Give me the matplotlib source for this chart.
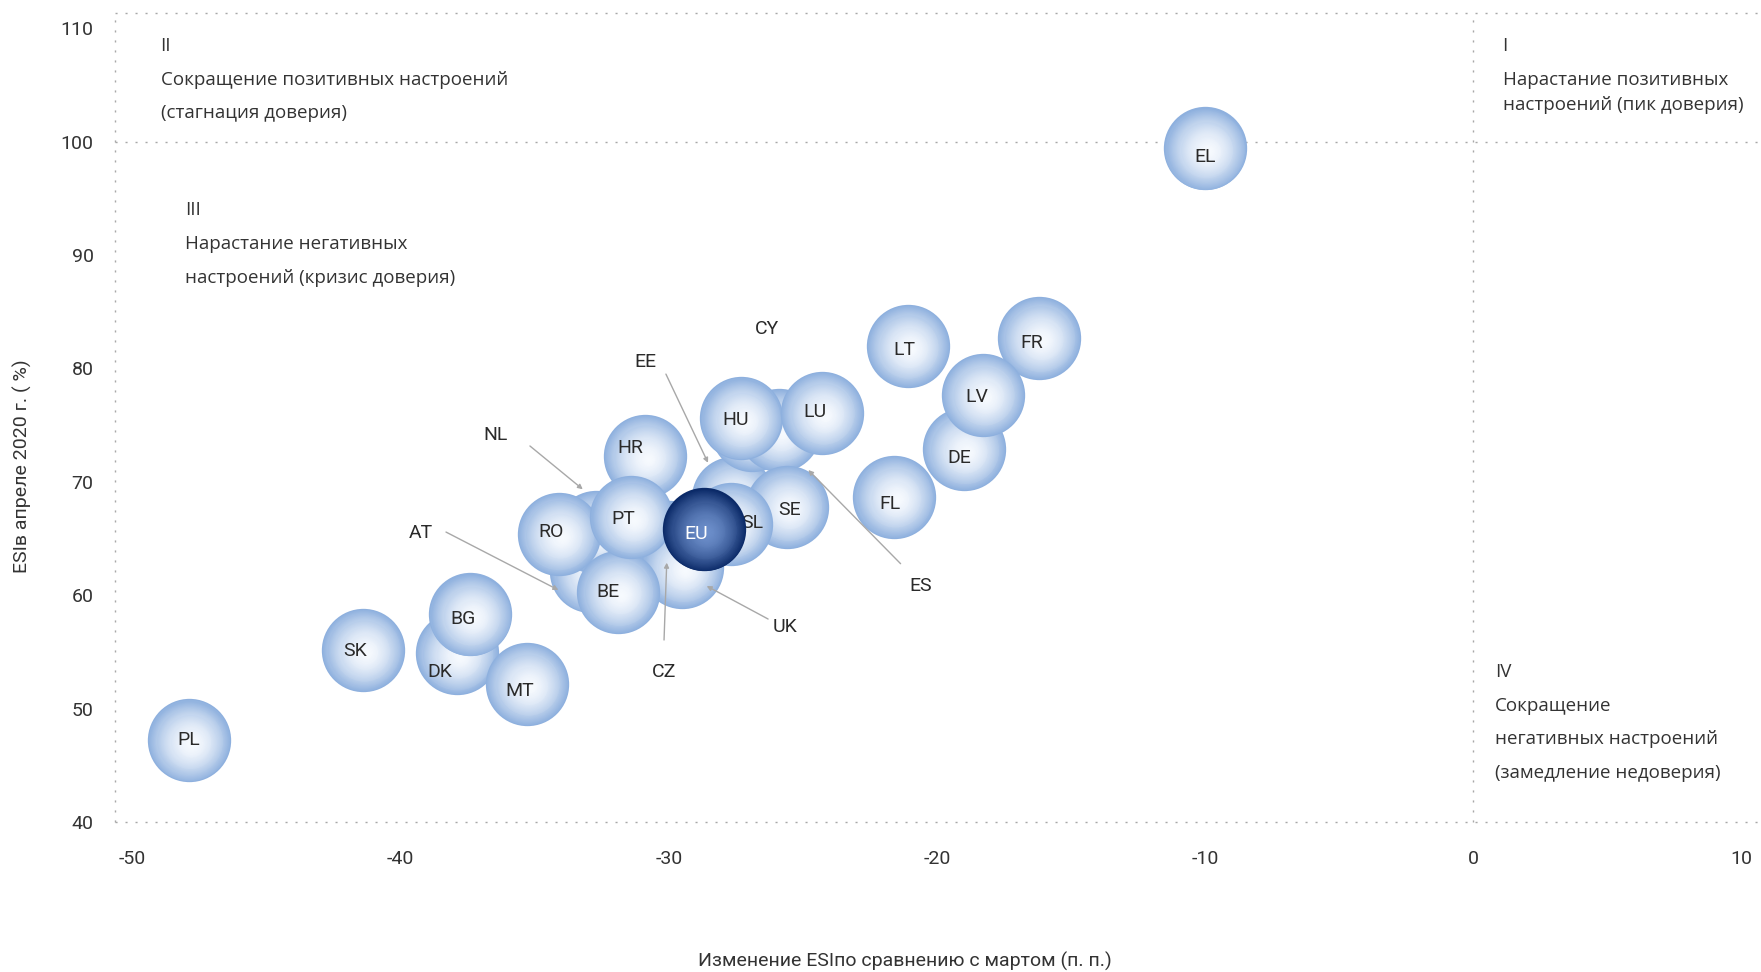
import matplotlib
matplotlib.use("Agg")
import matplotlib.pyplot as plt
import numpy as np
from matplotlib.transforms import ScaledTranslation

plt.rcParams['font.family'] = ['Roboto', 'DejaVu Sans']
plt.rcParams['axes.unicode_minus'] = False

# ---------------- data ----------------
countries = ['AT', 'NL', 'CZ', 'UK', 'EE', 'CY', 'ES', 'BE', 'RO', 'HR', 'PT',
             'HU', 'LU', 'SE', 'SL', 'EU', 'DK', 'BG', 'MT', 'SK', 'PL',
             'FL', 'DE', 'FR', 'LV', 'LT', 'EL']
esi_change = [-32.9, -32.7, -30.0, -29.5, -27.6, -26.9, -25.9, -31.9, -34.1, -30.9, -31.4,
              -27.3, -24.3, -25.6, -27.7, -28.7, -37.9, -37.4, -35.3, -41.4, -47.9,
              -21.6, -19.0, -16.2, -18.3, -21.1, -10.0]
esi_april = [62.1, 65.6, 64.7, 62.5, 68.6, 74.6, 74.6, 60.3, 65.4, 72.3, 66.9,
             75.6, 76.1, 67.8, 66.3, 65.8, 54.9, 58.3, 52.2, 55.2, 47.2,
             68.7, 72.9, 82.7, 77.7, 82.0, 99.4]

x_ticks = [-50, -40, -30, -20, -10, 0, 10]
y_ticks = [40, 50, 60, 70, 80, 90, 100, 110]

# labels of hidden bubbles: (label position, arrow start, arrow tip) in data units
callouts = {
    'EE': ((-30.87, 80.6), (-30.11, 79.5), (-28.54, 71.68)),
    'NL': ((-36.48, 74.16), (-35.18, 73.16), (-33.21, 69.34)),
    'AT': ((-39.24, 65.45), (-38.31, 65.57), (-34.12, 60.46)),
    'CZ': ((-30.19, 53.26), (-30.18, 56.05), (-30.08, 62.87)),
    'UK': ((-25.67, 57.23), (-26.3, 57.9), (-28.59, 60.81)),
    'ES': ((-20.6, 60.8), (-21.36, 62.78), (-24.8, 71.04)),
    'CY': ((-26.35, 83.47), None, None),
}
# in-bubble label offsets (pixels, right/down)
label_off = {
    'PL': (0, 0), 'SK': (-8, 1), 'DK': (-17, 19), 'BG': (-7, 5), 'MT': (-7, 7),
    'RO': (-8, -2), 'HR': (-14, -8), 'PT': (-8, 2), 'BE': (-10, 0), 'EU': (-8, 5),
    'SL': (22, -1), 'SE': (3, 3), 'HU': (-6, 2), 'LU': (-7, -1), 'LT': (-3, 4),
    'FR': (-7, 5), 'LV': (-6, 2), 'DE': (-5, 9), 'FL': (-4, 7), 'EL': (0, 9),
}

W, H = 1761, 972
fig = plt.figure(figsize=(W / 100, H / 100), dpi=100)
XL, XR = -50.67, 10.5
YB, YT = 40.0, 111.3
left = 114.5 / W
bottom = (H - 822) / H
ax = fig.add_axes([left, bottom, (XR - XL) * 26.82 / W, (822 - 13.5) / H])
ax.set_xlim(XL, XR)
ax.set_ylim(YB, YT)
for s in ax.spines.values():
    s.set_visible(False)

txt_col = '#333333'
dot_col = '#a8a8a8'
dots = (0, (1.5, 5.7))
# dotted frame lines
ax.plot([XL, XR + 0.3], [YT, YT], color=dot_col, lw=1, ls=dots, clip_on=False, zorder=1)
ax.plot([XL, XR + 0.3], [100, 100], color=dot_col, lw=1, ls=dots, clip_on=False, zorder=1)
ax.plot([XL, XR + 0.3], [40, 40], color=dot_col, lw=1, ls=dots, clip_on=False, zorder=1)
ax.plot([XL, XL], [YB, YT], color=dot_col, lw=1, ls=dots, clip_on=False, zorder=1)
ax.plot([0, 0], [YB, YT], color=dot_col, lw=1, ls=dots, clip_on=False, zorder=1)

ax.set_xticks(x_ticks)
ax.set_xticklabels([str(v) for v in x_ticks])
ax.set_yticks(y_ticks)
ax.set_yticklabels([str(v) for v in y_ticks])
ax.tick_params(axis='x', length=0, pad=20, labelsize=14, labelcolor=txt_col)
ax.tick_params(axis='y', length=0, pad=15, labelsize=14, labelcolor=txt_col)

# bubbles with radial gradient
light_edge = np.array([0x8e, 0xb0, 0xde]) / 255
light_ctr = np.array([0xf7, 0xfa, 0xfe]) / 255
dark_edge = np.array([0x0b, 0x2a, 0x68]) / 255
dark_ctr = np.array([0x6c, 0x8e, 0xca]) / 255
D = 60.0  # marker diameter (pt)
N = 36
for i, (c, x, y) in enumerate(zip(countries, esi_change, esi_april)):
    if c == 'EU':
        ce, cc = dark_edge, dark_ctr
    else:
        ce, cc = light_edge, light_ctr
    z = 10 + i
    for k in range(N):
        f = 1 - k / N
        g = f ** 1.8
        col = cc + (ce - cc) * g
        off = (1 - f) * D / 2 * 0.08
        tr = ax.transData + ScaledTranslation(off / 72, -off / 72, fig.dpi_scale_trans)
        ax.scatter([x], [y], s=(D * f) ** 2, color=col, linewidths=0,
                   transform=tr, zorder=z + k / (N * 2), clip_on=False)
    if c in label_off:
        dx, dy = label_off[c]
        tr = ax.transData + ScaledTranslation(dx / 100, -dy / 100, fig.dpi_scale_trans)
        ax.text(x, y, c, transform=tr, ha='center', va='center', fontsize=14,
                color='white' if c == 'EU' else '#2a2a2a', zorder=z + 0.9)

for c, (lp, a0, a1) in callouts.items():
    ax.text(lp[0], lp[1], c, ha='center', va='center', fontsize=14,
            color='#2a2a2a', zorder=60)
    if a0 is not None:
        ax.annotate('', xy=a1, xytext=a0,
                    arrowprops=dict(arrowstyle='-|>', color='#a8a8a8', lw=1.0,
                                    shrinkA=0, shrinkB=0, mutation_scale=7),
                    zorder=60, annotation_clip=False)

# quadrant texts (figure pixel coordinates)
def ftext(px, py, s, **kw):
    fig.text(px / W, 1 - py / H, s, ha='left', va='center', fontsize=13.5,
             color=txt_col, family=['Open Sans', 'DejaVu Sans'], **kw)

ftext(160.6, 46, 'II')
ftext(160.6, 80, 'Сокращение позитивных настроений')
ftext(160.6, 112.5, '(стагнация доверия)')
ftext(1502.6, 46, 'I')
ftext(1502.6, 80, 'Нарастание позитивных')
ftext(1502.6, 104.5, 'настроений (пик доверия)')
ftext(185.3, 210, 'III')
ftext(185.3, 244, 'Нарастание негативных')
ftext(185.3, 277.5, 'настроений (кризис доверия)')
ftext(1494.7, 672, 'IV')
ftext(1494.7, 705.5, 'Сокращение')
ftext(1494.7, 739, 'негативных настроений')
ftext(1494.7, 772.5, '(замедление недоверия)')

fig.text(22.5 / W, 1 - 466 / H, 'ESIв апреле 2020 г. ( %)', rotation=90,
         ha='center', va='center', fontsize=14, color=txt_col)
fig.text(905 / W, 1 - 961 / H, 'Изменение ESIпо сравнению с мартом (п. п.)',
         ha='center', va='center', fontsize=14, color=txt_col)

fig.savefig('out.png', dpi=100)
